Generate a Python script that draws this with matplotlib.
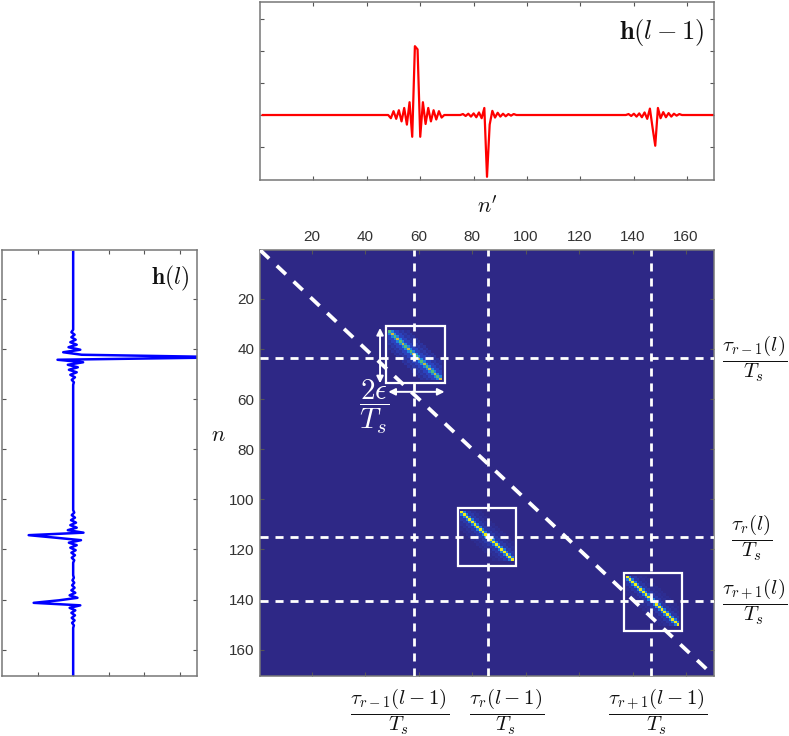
import numpy as np
import matplotlib
matplotlib.use('Agg')
import matplotlib.pyplot as plt
from matplotlib.colors import LinearSegmentedColormap
from matplotlib.patches import Rectangle

# h(l-1), only the samples around the three arrivals, zero elsewhere
top_n = [1, 48, 49, 50, 51, 52, 53, 54, 55, 56, 57, 58, 59, 60, 61, 62, 63, 64, 65, 66, 67, 68, 69,
         75, 76, 77, 78, 79, 80, 81, 82, 83, 84, 85, 86, 87, 88, 89, 90, 91, 92, 93, 94, 95, 96,
         137, 138, 139, 140, 141, 142, 143, 144, 145, 146, 147, 148, 149, 150, 151, 152, 153, 154, 155, 156, 157, 158,
         170]
top_h = [0, 0, -0.1, 0.12, -0.12, 0.15, -0.2, 0.22, -0.3, 0.4, -0.68, 2.15, 2.05, -0.68, 0.4, -0.28, 0.22, -0.2, 0.15, -0.14, 0.12, -0.08, 0,
         0, 0.03, -0.03, 0.04, -0.05, 0.05, -0.07, 0.08, -0.1, 0.22, -1.93, -0.3, 0.13, -0.08, 0.07, -0.05, 0.04, -0.04, 0.03, -0.02, 0.03, 0,
         0, 0.03, -0.03, 0.04, -0.05, 0.05, -0.07, 0.08, -0.12, 0.2, -0.4, -0.96, 0.22, -0.1, 0.09, -0.07, 0.06, -0.05, 0.04, -0.02, 0.03, 0,
         0]

# h(l), same idea
left_n = [1, 32, 33, 34, 35, 36, 37, 38, 39, 40, 41, 42, 43, 44, 45, 46, 47, 48, 49, 50, 51, 52, 53, 54,
          104, 105, 106, 107, 108, 109, 110, 111, 112, 113, 114, 115, 116, 117, 118, 119, 120, 121, 122, 123, 124, 125,
          130, 131, 132, 133, 134, 135, 136, 137, 138, 139, 140, 141, 142, 143, 144, 145, 146, 147, 148, 149, 150, 151,
          170]
left_h = [0, 0, -0.05, 0.04, -0.05, 0.07, -0.08, 0.1, -0.13, 0.2, -0.28, 0.24, 4.5, -0.44, 0.28, -0.15, 0.13, -0.12, 0.1, -0.08, 0.05, -0.04, 0.02, 0,
          0, 0.03, -0.04, 0.05, -0.06, 0.08, -0.08, 0.1, -0.15, 0.29, -1.25, -0.5, 0.22, -0.12, 0.1, -0.08, 0.07, -0.05, 0.05, -0.04, 0.03, 0,
          0, 0.02, -0.02, 0.03, -0.03, 0.04, -0.05, 0.06, -0.1, 0.12, -0.4, -1.11, 0.2, -0.1, 0.06, -0.05, 0.05, -0.04, 0.04, -0.03, 0.02, 0,
          0]

# matrix blocks: first column, first row, diagonal values
block_col = [49, 76, 138]
block_row = [33, 105, 131]
block_diag = [[0.6, 0.78, 0.6, 0.78, 0.62, 0.76, 0.6, 0.78, 0.62, 0.76, 0.6, 0.78, 0.6, 0.76, 0.62, 0.78, 0.6, 0.76, 0.6, 0.78],
              [1.0] * 20,
              [1.0] * 20]
# value on the off-diagonals, index is the distance from the diagonal
band_values = [[0, 0.35, 0.14, 0.14, 0.07, 0.09, 0.04, 0.06],
               [0, 0.32, 0.08, 0.09, 0.04, 0.05, 0.02, 0.03],
               [0, 0.32, 0.07, 0.08, 0.03, 0.04, 0.02, 0.03]]

# white boxes: n' from, n' to, n from, n to
box_col = [(47.75, 69.6), (74.6, 96.5), (136.9, 158.6)]
box_row = [(30.8, 53.7), (103.3, 126.5), (129.2, 152.4)]

v_delays = [58.3, 85.8, 146.8]
h_delays = [43.7, 115.0, 140.7]
tick_vals = [20, 40, 60, 80, 100, 120, 140, 160]

W, H = 789, 736
plt.rcParams['mathtext.fontset'] = 'cm'
plt.rcParams['font.family'] = ['Liberation Sans', 'DejaVu Sans']
plt.rcParams['lines.scale_dashes'] = False

# MATLAB parula, dark end
cmap = LinearSegmentedColormap.from_list('parula_ish', [
    (0.0, '#2e2886'), (0.2, '#2a50d8'), (0.35, '#1f86e0'), (0.5, '#22b8b0'),
    (0.65, '#6cc060'), (0.8, '#e8b838'), (1.0, '#f0ee18')])


def axes_px(left, top, right, bottom):
    return fig.add_axes([left / W, 1 - bottom / H, (right - left) / W, (bottom - top) / H])


def style_box(ax, xticks, yticks):
    ax.set_xticks(xticks)
    ax.set_yticks(yticks)
    ax.tick_params(direction='in', top=True, right=True, length=3, width=0.8, color='#555555',
                   labelbottom=False, labelleft=False)
    for sp in ax.spines.values():
        sp.set_color('#777777')
        sp.set_linewidth(1.1)


def label_px(x, y, s, size=15, color='#111111', **kw):
    fig.text(x / W, 1 - y / H, s, fontsize=size, color=color, ha='center', va='center', **kw)


fig = plt.figure(figsize=(W / 100, H / 100), dpi=100)

# top trace
ax_top = axes_px(260, 2, 714, 180)
ax_top.plot(top_n, top_h, color='#ff0000', lw=1.6)
ax_top.set_xlim(0, 170)
ax_top.set_ylim(-2.03, 3.53)
style_box(ax_top, tick_vals, [-1, 0, 1, 2, 3])

# left trace, running downwards
ax_left = axes_px(2, 250, 197, 676)
ax_left.plot(left_h, np.array(left_n) + 0.3, color='#0000ff', lw=1.8)
ax_left.set_xlim(-2, 3.48)
ax_left.set_ylim(170.5, 0.5)
style_box(ax_left, [-1, 0, 1, 2, 3], tick_vals)

# matrix
mat = np.zeros((170, 170))
for col, row, diag, bands in zip(block_col, block_row, block_diag, band_values):
    for i, val in enumerate(diag):
        mat[row - 1 + i, col - 1 + i] = val
        for d in range(1, len(bands)):
            for j in (i - d, i + d):
                if 0 <= j < len(diag):
                    mat[row - 1 + i, col - 1 + j] = bands[d]

ax = axes_px(260, 250, 714, 676)
ax.imshow(mat, cmap=cmap, vmin=0, vmax=1, aspect='auto', interpolation='nearest',
          extent=(0.5, 170.5, 170.5, 0.5))
ax.set_xticks(tick_vals)
ax.set_yticks(tick_vals)
ax.xaxis.tick_top()
ax.tick_params(direction='in', top=True, bottom=True, left=True, right=True, length=3, width=0.8,
               color='#555555', labelsize=11, labelcolor='#333333', pad=4)
for sp in ax.spines.values():
    sp.set_color('#777777')
    sp.set_linewidth(1.1)

for (c0, c1), (r0, r1) in zip(box_col, box_row):
    ax.add_patch(Rectangle((c0, r0), c1 - c0, r1 - r0, fill=False, ec='white', lw=1.6, zorder=3))

for v in v_delays:
    ax.axvline(v, color='white', lw=2.0, ls=(0, (5.8, 5.0)), zorder=4)
for h in h_delays:
    ax.axhline(h, color='white', lw=2.0, ls=(0, (5.8, 5.0)), zorder=4)
ax.plot([0.5, 170.5], [0.5, 170.5], color='white', lw=2.7, ls=(0, (9.0, 7.6)), zorder=5)

# 2 epsilon arrows of the first box
c0, c1 = box_col[0]
r0, r1 = box_row[0]
arrow = dict(arrowstyle='<|-|>', color='white', lw=1.4, shrinkA=0, shrinkB=0, mutation_scale=10)
ax.annotate('', xy=(c0 - 2.3, r0 + 0.8), xytext=(c0 - 2.3, r1), arrowprops=arrow, zorder=6)
ax.annotate('', xy=(c0 + 0.8, r1 + 3.4), xytext=(c1, r1 + 3.4), arrowprops=arrow, zorder=6)

# text
label_px(487, 207, r"$n'$", size=16)
label_px(218, 435, r'$n$', size=16)
label_px(662, 32, r'$\mathbf{h}(l-1)$', size=19)
label_px(170, 278, r'$\mathbf{h}(l)$', size=17)
label_px(374.6, 407, r'$\dfrac{2\epsilon}{T_s}$', size=21, color='white')
label_px(755, 359, r'$\dfrac{\tau_{r-1}(l)}{T_s}$')
label_px(751.5, 538, r'$\dfrac{\tau_{r}(l)}{T_s}$')
label_px(755, 602, r'$\dfrac{\tau_{r+1}(l)}{T_s}$')
label_px(400, 712, r'$\dfrac{\tau_{r-1}(l-1)}{T_s}$')
label_px(506.5, 712, r'$\dfrac{\tau_{r}(l-1)}{T_s}$')
label_px(658, 712, r'$\dfrac{\tau_{r+1}(l-1)}{T_s}$')

fig.savefig('out.png', dpi=100)
plt.close(fig)
